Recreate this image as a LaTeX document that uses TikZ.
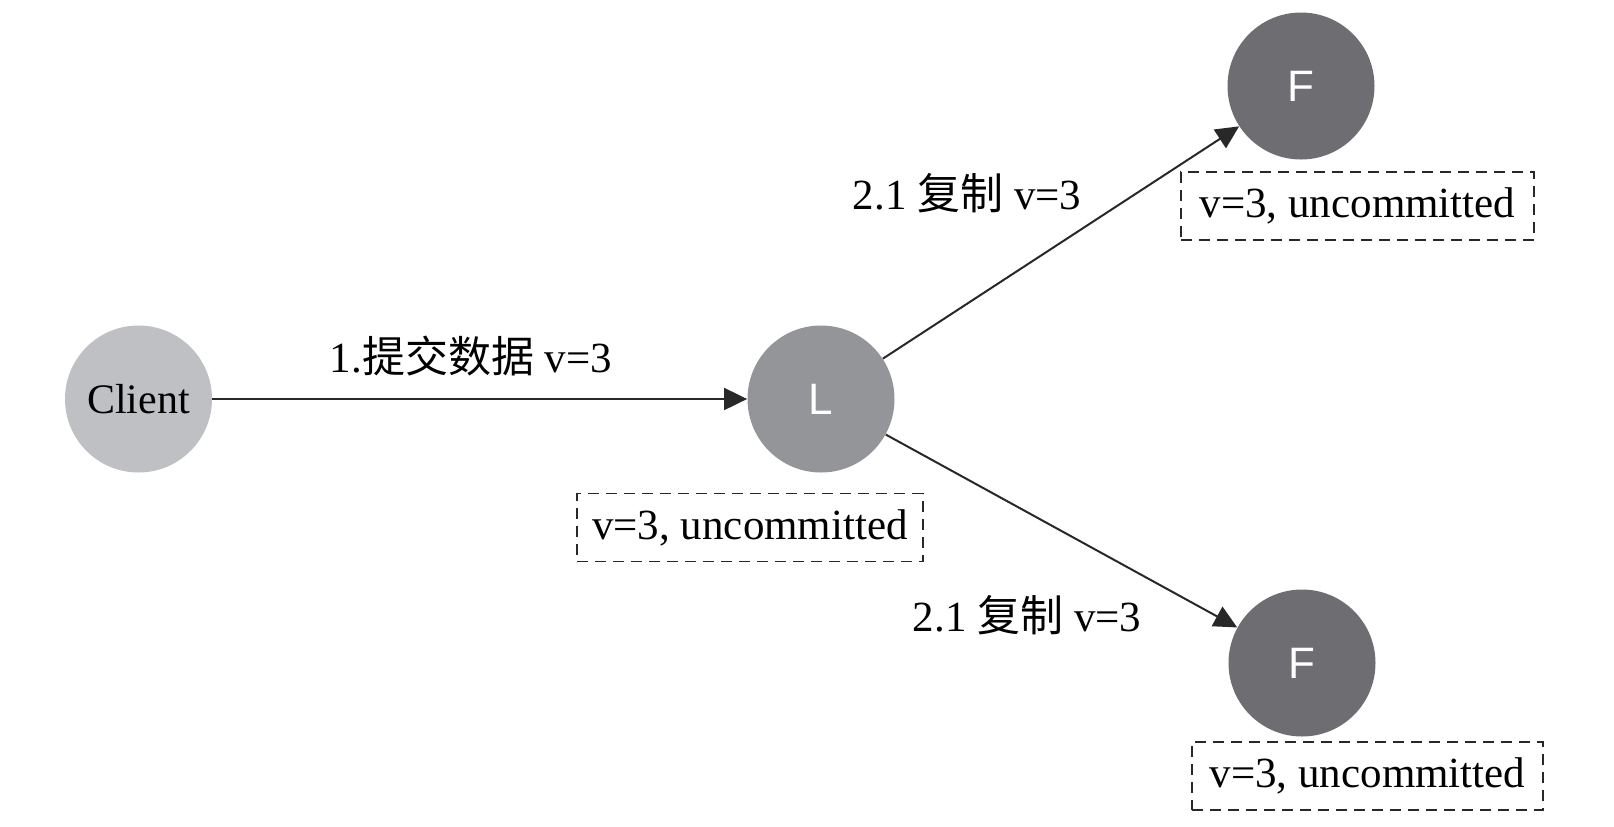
\documentclass[tikz,border=0pt]{standalone}
\usepackage{fontspec}
\setmainfont{Liberation Serif}
\newfontfamily\cjk{Noto Sans CJK SC}
\newfontfamily\peerfont{Liberation Sans}
\usetikzlibrary{arrows.meta}
\definecolor{clientgray}{RGB}{191,192,195}
\definecolor{leadgray}{RGB}{148,149,153}
\definecolor{follgray}{RGB}{110,110,114}
\definecolor{linegray}{RGB}{40,40,40}
\begin{document}
\begin{tikzpicture}[x=0.5pt,y=-0.5pt,
  every node/.style={font=\fontsize{21.5}{26}\selectfont},
  peer/.style={circle, minimum size=73.5pt, inner sep=0pt, draw=none},
  peerlabel/.style={text=white, font=\peerfont\fontsize{22}{24}\selectfont},
  conn/.style={draw=linegray, line width=1pt, -{Triangle[length=11.5pt,width=11pt]}},
  statebox/.style={draw=linegray, line width=0.7pt, dash pattern=on 5.5pt off 3.5pt,
    minimum height=34pt, inner sep=0pt, text=black}
]
\useasboundingbox (0,0) rectangle (1614,826);
\node[peer, fill=clientgray, text=black, font=\fontsize{21}{24}\selectfont] (client) at (138.5,399) {Client};
\node[peer, peerlabel, fill=leadgray] (L) at (821,399) {L};
\node[peer, peerlabel, fill=follgray] (F1) at (1301,86) {F};
\node[peer, peerlabel, fill=follgray] (F2) at (1302,663) {F};
\draw[conn] (client) -- (L);
\draw[conn] (L) -- (F1);
\draw[conn] (L) -- (F2);
\node[anchor=base] (m1) at (471,372) {1.{\cjk 提交数据} v=3};
\node[anchor=base] (m2) at (967,209) {2.1 {\cjk 复制} v=3};
\node[anchor=base] (m3) at (1027,631) {2.1 {\cjk 复制} v=3};
\node[statebox, minimum width=173pt] (sL) at (750,527.5) {v=3, uncommitted};
\node[statebox, minimum width=176.5pt] (sF1) at (1357.5,206) {v=3, uncommitted};
\node[statebox, minimum width=175.5pt] (sF2) at (1367.5,776) {v=3, uncommitted};
\end{tikzpicture}
\end{document}
